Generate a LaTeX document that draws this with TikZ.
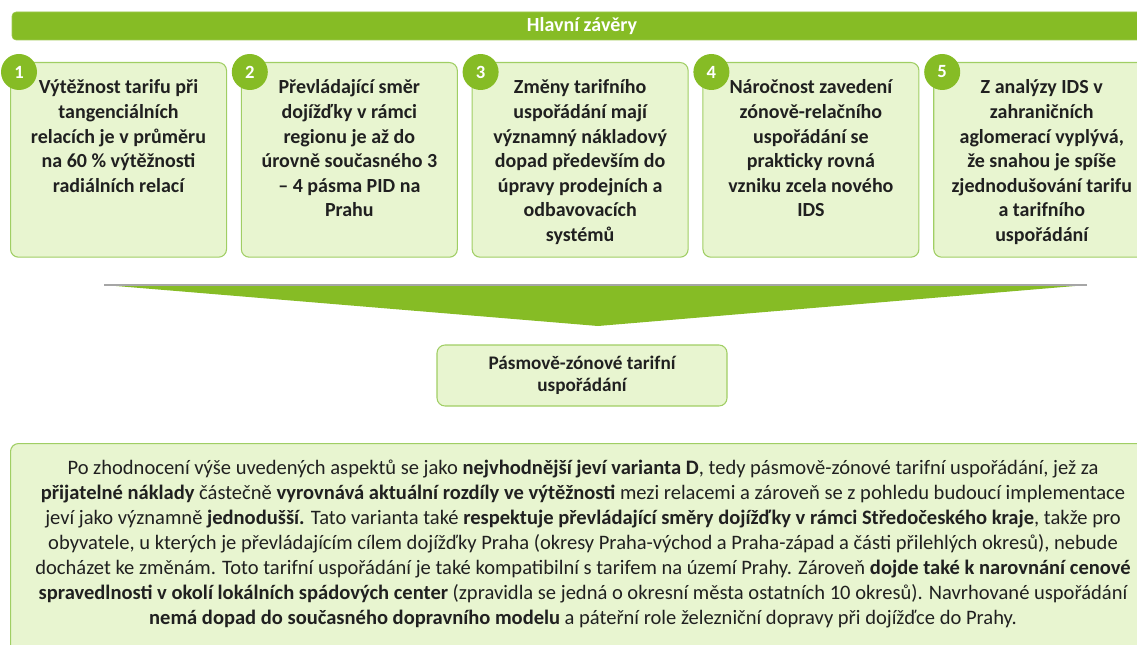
\documentclass[tikz,border=0pt]{standalone}
\usepackage{fontspec}
\setmainfont{Carlito}
\usepackage{tikz}
\usetikzlibrary{positioning,calc}
\definecolor{zavgreen}{RGB}{134,188,37}
\definecolor{zavfill}{RGB}{232,245,208}
\definecolor{zavline}{RGB}{160,206,100}
\definecolor{zavtext}{RGB}{32,32,32}
\tikzset{
    headbar/.style={rectangle, fill=#1, draw=#1!80!white, rounded corners=3pt,
                    minimum width=855pt, minimum height=21pt, text=white,
                    font=\fontsize{15}{18}\selectfont\bfseries},
    card/.style={rectangle, draw=zavline, fill=zavfill, thick, rounded corners=6pt,
                 inner sep=0pt},
    cardtxt/.style={align=center, inner sep=0pt, text=zavtext,
                    font=\fontsize{15}{18.4}\selectfont\bfseries},
    numdot/.style={circle, fill=zavgreen, minimum size=27pt, inner sep=0pt,
                   text=white, font=\fontsize{14}{16}\selectfont\bfseries},
    bodytxt/.style={align=center, inner sep=0pt, text=zavtext,
                    font=\fontsize{15.4}{18.75}\selectfont},
}

\begin{document}
\begin{tikzpicture}[x=0.75pt, y=-0.75pt]
    \useasboundingbox (0,0) rectangle (1137,645);
    \clip (0,0) rectangle (1137,645);

    \node[headbar=zavgreen] (head) at (582,26) {Hlavní závěry};

    % five conclusion cards with numbered badges (\n = number of lines)
    \foreach \i/\n/\t in {
        1/5/{Výtěžnost tarifu při\\tangenciálních\\relacích je v průměru\\na 60 \% výtěžnosti\\radiálních relací},
        2/6/{Převládající směr\\dojížďky v rámci\\regionu je až do\\úrovně současného 3\\– 4 pásma PID na\\Prahu},
        3/7/{Změny tarifního\\uspořádání mají\\významný nákladový\\dopad především do\\úpravy prodejních a\\odbavovacích\\systémů},
        4/6/{Náročnost zavedení\\zónově-relačního\\uspořádání se\\prakticky rovná\\vzniku zcela nového\\IDS},
        5/7/{Z analýzy IDS v\\zahraničních\\aglomerací vyplývá,\\že snahou je spíše\\zjednodušování tarifu\\a tarifního\\uspořádání}} {
        \node[card, minimum width=162pt, minimum height=146pt, anchor=north west]
            (c\i) at ({10+230.8*(\i-1)},62) {};
        \node[cardtxt, anchor=base] (t\i) at ($(c\i.north)+(0,{32+24.53*(\n-1)})$) {\t};
        \node[numdot] (n\i) at ($(c\i.north west)+(9,10)$) {\i};
    }

    % wide chevron pointing down to the chosen variant
    \coordinate (al) at (104,285);
    \coordinate (ar) at (1087,285);
    \coordinate (tip) at (598,326);
    \fill[zavgreen] (al) -- (ar) -- (tip) -- cycle;
    \draw[black!35, line width=1.5pt] (al) -- (ar);

    \node[card, minimum width=217.5pt, minimum height=45.75pt, align=center,
          text=zavtext, font=\fontsize{14.4}{16.5}\selectfont\bfseries]
        (res) at (582,375.5) {Pásmově-zónové tarifní\\uspořádání};

    \node[card, minimum width=860pt, minimum height=165pt, anchor=north west]
        (sum) at (10,443) {};
    \node[bodytxt, anchor=base] (st) at (583,624) {%
        Po zhodnocení výše uvedených aspektů se jako \textbf{nejvhodnější jeví varianta D}, tedy pásmově-zónové tarifní uspořádání, jež za\\
        \textbf{přijatelné náklady} částečně \textbf{vyrovnává aktuální rozdíly ve výtěžnosti} mezi relacemi a zároveň se z pohledu budoucí implementace\\
        jeví jako významně \textbf{jednodušší.} Tato varianta také \textbf{respektuje převládající směry dojížďky v rámci Středočeského kraje}, takže pro\\
        obyvatele, u kterých je převládajícím cílem dojížďky Praha (okresy Praha-východ a Praha-západ a části přilehlých okresů), nebude\\
        docházet ke změnám. Toto tarifní uspořádání je také kompatibilní s tarifem na území Prahy. Zároveň \textbf{dojde také k narovnání cenové}\\
        \textbf{spravedlnosti v okolí lokálních spádových center} (zpravidla se jedná o okresní města ostatních 10 okresů). Navrhované uspořádání\\
        \textbf{nemá dopad do současného dopravního modelu} a páteřní role železniční dopravy při dojížďce do Prahy.};
\end{tikzpicture}
\end{document}
